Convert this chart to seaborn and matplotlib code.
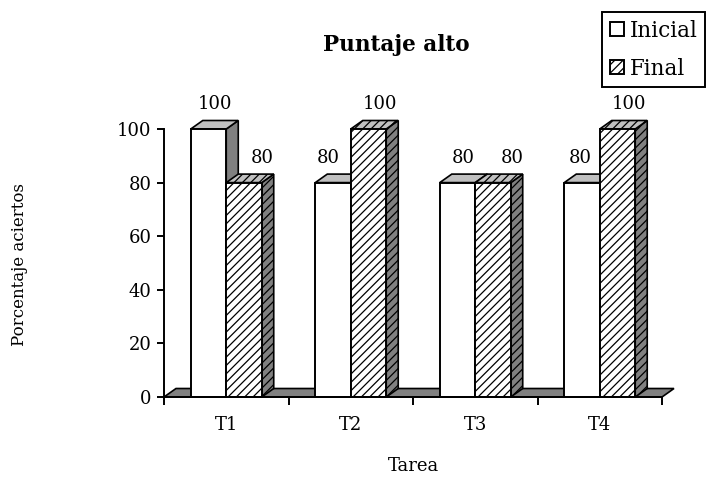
import pandas as pd
import seaborn as sns
import matplotlib.pyplot as plt
from matplotlib.patches import Polygon, Patch

# datos
tareas = ['T1', 'T2', 'T3', 'T4']
series = ['Inicial', 'Final']
inicial = [100, 80, 80, 80]
final = [80, 100, 80, 100]
y_ticks = [0, 20, 40, 60, 80, 100]

df = pd.DataFrame({
    'Tarea': tareas * 2,
    'Serie': [series[0]] * len(tareas) + [series[1]] * len(tareas),
    'Valor': inicial + final,
})

sns.set_style('white')
plt.rcParams['font.family'] = ['DejaVu Serif']
plt.rcParams['hatch.linewidth'] = 0.9
plt.rcParams['text.color'] = 'black'
plt.rcParams['xtick.color'] = 'black'
plt.rcParams['ytick.color'] = 'black'
plt.rcParams['axes.labelcolor'] = 'black'

W, H = 712, 479
fig = plt.figure(figsize=(W / 100, H / 100), dpi=100)
# ejes en pixeles: x 164..662, y 129..397
ax = fig.add_axes([164 / W, (H - 397) / H, 498 / W, 268 / H])

sns.barplot(data=df, x='Tarea', y='Valor', hue='Serie', hue_order=series,
            palette=['white', 'white'], width=0.57, edgecolor='black',
            linewidth=1.4, saturation=1, legend=False, ax=ax)

ax.set_xlim(-0.5, 3.5)
ax.set_ylim(0, 100)

# profundidad 3D (en pixeles -> datos)
dx = 12 / (498 / 4)
dy = 8.5 / (268 / 100)

# piso
floor = Polygon([(-0.5, 0), (3.5, 0), (3.5 + dx, dy), (-0.5 + dx, dy)],
                closed=True, facecolor='#808080', edgecolor='black',
                linewidth=1.2, zorder=1, clip_on=False)
ax.add_patch(floor)

bars = list(ax.patches[:8])
for i, p in enumerate(bars):
    hatched = i >= len(tareas)
    z = 4 if hatched else 3
    hatch = '////' if hatched else None
    x0, w, h = p.get_x(), p.get_width(), p.get_height()
    side = Polygon([(x0 + w, 0), (x0 + w + dx, dy), (x0 + w + dx, h + dy), (x0 + w, h)],
                   closed=True, facecolor='#808080', edgecolor='black',
                   linewidth=1.2, hatch=hatch, zorder=z, clip_on=False)
    top = Polygon([(x0, h), (x0 + dx, h + dy), (x0 + w + dx, h + dy), (x0 + w, h)],
                  closed=True, facecolor='#c0c0c0', edgecolor='black',
                  linewidth=1.2, hatch=hatch, zorder=z, clip_on=False)
    ax.add_patch(side)
    ax.add_patch(top)
    p.set_zorder(z + 0.1)
    p.set_clip_on(False)
    if hatched:
        p.set_hatch('////')

# etiquetas de valor (ajuste horizontal en pixeles, como en el original)
nudge = [0, -11, 0, -8, 12, 6, 13, 6]
for i, p in enumerate(bars):
    x0, w, h = p.get_x(), p.get_width(), p.get_height()
    ax.annotate(f'{h:.0f}', (x0 + w / 2 + dx / 2, h), xytext=(nudge[i], 25),
                textcoords='offset pixels', ha='center', va='center',
                fontsize=13, annotation_clip=False, zorder=6)

# ejes
sns.despine(ax=ax, top=True, right=True)
for s in ['left', 'bottom']:
    ax.spines[s].set_color('black')
    ax.spines[s].set_linewidth(1.4)
    ax.spines[s].set_zorder(5)

ax.set_yticks(y_ticks)
ax.tick_params(axis='y', direction='out', length=5, width=1.4, labelsize=13, pad=4, left=True)
ax.set_xticks(range(len(tareas)))
ax.set_xticklabels(tareas)
ax.set_xticks([-0.5, 0.5, 1.5, 2.5, 3.5], minor=True)
ax.tick_params(axis='x', which='major', length=0, labelsize=13, pad=14)
ax.tick_params(axis='x', which='minor', direction='out', length=6, width=1.4, bottom=True)

ax.set_xlabel('')
ax.set_ylabel('')
fig.text(20 / W, 1 - 265 / H, 'Porcentaje aciertos', rotation=90,
         ha='center', va='center', fontsize=12)
fig.text(413 / W, 1 - 466 / H, 'Tarea', ha='center', va='center', fontsize=13)
fig.text(396 / W, 1 - 45 / H, 'Puntaje alto', ha='center', va='center',
         fontsize=15.5, fontweight='bold')

handles = [Patch(facecolor='white', edgecolor='black', linewidth=1.4),
           Patch(facecolor='white', edgecolor='black', linewidth=1.4, hatch='////')]
leg = fig.legend(handles, series, loc='upper left', bbox_to_anchor=(602 / W, 1 - 12 / H),
                 fontsize=15.5, frameon=True, fancybox=False, edgecolor='black',
                 handlelength=0.65, handleheight=0.65, handletextpad=0.3,
                 borderpad=0.35, borderaxespad=0, labelspacing=0.75, framealpha=1)
leg.get_frame().set_linewidth(1.4)

fig.savefig('out.png', dpi=100)
